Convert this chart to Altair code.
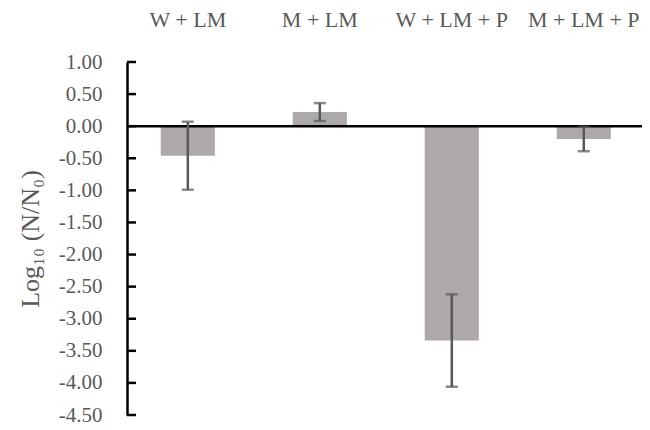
import altair as alt
import pandas as pd

categories = ["W + LM", "M + LM", "W + LM + P", "M + LM + P"]
means = [-0.46, 0.22, -3.34, -0.20]
errors = [0.53, 0.14, 0.72, 0.19]
y_ticks = [1.0, 0.5, 0.0, -0.5, -1.0, -1.5, -2.0, -2.5, -3.0, -3.5, -4.0, -4.5]

df = pd.DataFrame({"cat": categories, "mean": means, "err": errors})
df["low"] = df["mean"] - df["err"]
df["high"] = df["mean"] + df["err"]
ticks_df = pd.DataFrame({"v": y_ticks})

FONT = "Liberation Serif"
TXT = "#595959"

xs = alt.Scale(domain=categories, paddingInner=0.59, paddingOuter=0.246, align=0.52)
ys = alt.Scale(domain=[-4.5, 1.0], nice=False, zero=False)

x_axis = alt.Axis(orient="top", title=None, domain=False, ticks=False,
                  labelAngle=0, labelPadding=31, labelFontSize=22,
                  labelColor=TXT, labelFont=FONT, labelOverlap=False)
y_axis = alt.Axis(values=y_ticks, title="Log₁₀ (N/N₀)",
                  labelExpr="replace(format(datum.value, '.2f'), '−', '-')",
                  domainColor="black", domainWidth=2.5, ticks=False,
                  labelFontSize=21, labelColor=TXT, labelFont=FONT, labelPadding=25,
                  labelOverlap=False, labelBound=False, labelFlush=False,
                  titleFont=FONT, titleFontSize=26, titleColor=TXT, titleFontWeight="normal",
                  titlePadding=15, grid=False)

def X():
    return alt.X("cat:N", scale=xs, sort=categories, axis=x_axis)

def Y(field):
    return alt.Y(field, scale=ys, axis=y_axis)

base = alt.Chart(df)
bars = base.mark_bar(color="#ADA9AA").encode(x=X(), y=Y("mean:Q"))
zero = alt.Chart(pd.DataFrame({"z": [0.0]})).mark_rule(color="black", strokeWidth=2.5).encode(
    y=Y("z:Q")
)
tick_marks = alt.Chart(ticks_df).mark_rule(color="black", strokeWidth=2.5).encode(
    y=Y("v:Q"), x=alt.value(0), x2=alt.value(9)
)
err_rule = base.mark_rule(color=TXT, strokeWidth=2.5).encode(
    x=X(), y=Y("low:Q"), y2="high:Q"
)
cap_low = base.mark_tick(color=TXT, thickness=2.5, size=12).encode(x=X(), y=Y("low:Q"))
cap_high = base.mark_tick(color=TXT, thickness=2.5, size=12).encode(x=X(), y=Y("high:Q"))

chart = alt.layer(bars, zero, err_rule, cap_low, cap_high, tick_marks).properties(
    width=515, height=353,
    autosize="none",
    padding={"left": 119, "top": 54, "right": 0, "bottom": 12},
).configure_view(stroke=None).configure_axis(labelOverlap=False)

chart.save("out.html", embed_options={"renderer": "svg", "actions": False})
